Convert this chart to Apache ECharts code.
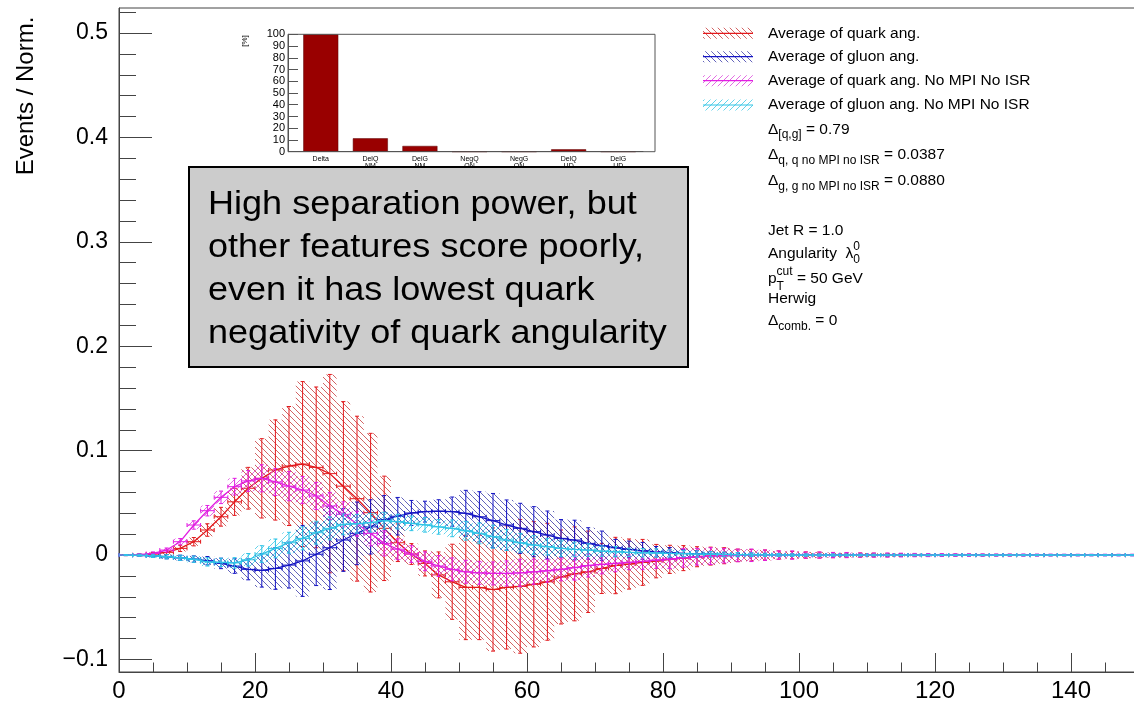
<!DOCTYPE html>
<html><head><meta charset="utf-8">
<script src="https://cdn.jsdelivr.net/npm/echarts@6/dist/echarts.min.js"></script>
<style>html,body{margin:0;padding:0;background:#fff;overflow:hidden}#c{width:1134px;height:702px}</style>
</head><body><div id="c"></div>
<script>
// ---------------- data ----------------
const binCenters = [1,3,5,7,9,11,13,15,17,19,21,23,25,27,29,31,33,35,37,39,41,43,45,47,49,51,53,55,57,59,61,63,65,67,69,71,73,75,77,79,81,83,85,87,89,91,93,95,97,99,101,103,105,107,109,111,113,115,117,119,121,123,125,127,129,131,133,135,137,139,141,143,145,147,149];

const quarkAvg = [0,0.0002,0.001,0.0026,0.0064,0.0128,0.024,0.0367,0.051,0.064,
  0.0735,0.0815,0.0853,0.0872,0.084,0.078,0.066,0.054,0.0406,0.0256,
  0.0118,0.001,-0.008,-0.019,-0.0256,-0.031,-0.031,-0.033,-0.031,-0.030,
  -0.028,-0.0256,-0.021,-0.018,-0.016,-0.0128,-0.010,-0.0086,-0.007,-0.0058,
  -0.0041,-0.0029,-0.0016,-0.001,-0.0006,-0.0003,-0.0002,-0.0001,0,0,
  0,0,0,0,0,0,0,0,0,0, 0,0,0,0,0,0,0,0,0,0, 0,0,0,0,0];
const quarkAvgErr = [0.0005,0.001,0.0015,0.002,0.003,0.004,0.006,0.009,0.013,0.02,
  0.038,0.048,0.057,0.079,0.077,0.095,0.081,0.079,0.076,0.05,
  0.018,0.01,0.012,0.022,0.036,0.05,0.05,0.059,0.059,0.064,
  0.06,0.056,0.045,0.045,0.039,0.024,0.027,0.024,0.022,0.016,
  0.0135,0.012,0.0096,0.0086,0.0077,0.006,0.0055,0.005,0.004,0.0035,
  0.003,0.0028,0.0025,0.0022,0.002,0.0018,0.0016,0.0014,0.0012,0.001,
  0.001,0.0009,0.0008,0.0008,0.0007,0.0007,0.0006,0.0006,0.0005,0.0005,
  0.0005,0.0004,0.0004,0.0004,0.0004];

const gluonAvg = [0,-0.0002,-0.0008,-0.0016,-0.0026,-0.0038,-0.0054,-0.008,-0.0105,-0.0137,
  -0.0147,-0.0128,-0.0096,-0.0056,0.0008,0.007,0.0144,0.0208,0.027,0.034,
  0.0372,0.0403,0.0416,0.042,0.0416,0.040,0.0367,0.033,0.0288,0.0256,
  0.0224,0.0192,0.016,0.0144,0.0112,0.009,0.007,0.0054,0.0041,0.0032,
  0.0022,0.0016,0.0013,0.0008,0.0006,0.0004,0.0003,0.0002,0.0001,0,
  0,0,0,0,0,0,0,0,0,0, 0,0,0,0,0,0,0,0,0,0, 0,0,0,0,0];
const gluonAvgErr = [0.0005,0.001,0.0015,0.002,0.0025,0.003,0.004,0.005,0.007,0.01,
  0.016,0.02,0.022,0.034,0.03,0.04,0.03,0.03,0.026,0.023,
  0.018,0.012,0.01,0.011,0.014,0.022,0.024,0.026,0.024,0.024,
  0.024,0.023,0.018,0.019,0.015,0.014,0.008,0.008,0.008,0.005,
  0.005,0.0035,0.003,0.0025,0.002,0.0018,0.0016,0.0014,0.0012,0.001,
  0.001,0.001,0.0009,0.0009,0.0008,0.0008,0.0008,0.0007,0.0007,0.0007,
  0.0006,0.0006,0.0006,0.0006,0.0006,0.0006,0.0006,0.0006,0.0006,0.0006,
  0.0005,0.0005,0.0005,0.0005,0.0005];

const quarkNoMpi = [0,0.0003,0.0015,0.0048,0.0128,0.0288,0.0425,0.0553,0.0655,0.071,
  0.0735,0.070,0.066,0.0623,0.0566,0.047,0.039,0.030,0.0208,0.0112,
  0.0056,0.001,-0.006,-0.0105,-0.0137,-0.016,-0.017,-0.0176,-0.0176,-0.017,
  -0.016,-0.015,-0.0137,-0.012,-0.010,-0.009,-0.008,-0.007,-0.006,-0.0048,
  -0.004,-0.0026,-0.0016,-0.001,-0.0006,-0.0003,-0.0002,-0.0001,0,0,
  0,0,0,0,0,0,0,0,0,0, 0,0,0,0,0,0,0,0,0,0, 0,0,0,0,0];
const quarkNoMpiErr = [0.0005,0.001,0.0015,0.002,0.003,0.004,0.005,0.006,0.008,0.01,
  0.013,0.013,0.014,0.013,0.013,0.013,0.012,0.012,0.012,0.012,
  0.01,0.008,0.009,0.01,0.011,0.011,0.011,0.011,0.012,0.013,
  0.012,0.011,0.011,0.012,0.011,0.009,0.008,0.007,0.008,0.008,
  0.009,0.009,0.008,0.008,0.007,0.006,0.006,0.005,0.004,0.004,
  0.003,0.003,0.0025,0.0025,0.002,0.002,0.002,0.0018,0.0016,0.0015,
  0.0014,0.0013,0.0012,0.0011,0.001,0.001,0.001,0.0009,0.0009,0.0008,
  0.0008,0.0008,0.0008,0.0008,0.0008];

const gluonNoMpi = [0,-0.0002,-0.0008,-0.0016,-0.0026,-0.004,-0.0065,-0.007,-0.0075,-0.0045,
  0.001,0.0064,0.0118,0.016,0.0214,0.0256,0.0294,0.030,0.031,0.033,
  0.032,0.0304,0.029,0.027,0.0256,0.0233,0.0208,0.0176,0.0144,0.0118,
  0.0096,0.008,0.0064,0.0054,0.0048,0.0038,0.0032,0.0026,0.0022,0.002,
  0.0016,0.0013,0.001,0.0008,0.0006,0.0004,0.0003,0.0002,0.0001,0,
  0,0,0,0,0,0,0,0,0,0, 0,0,0,0,0,0,0,0,0,0, 0,0,0,0,0];
const gluonNoMpiErr = [0.0005,0.001,0.0015,0.002,0.0025,0.003,0.004,0.004,0.005,0.006,
  0.008,0.009,0.01,0.011,0.011,0.011,0.01,0.009,0.009,0.008,
  0.007,0.007,0.007,0.007,0.008,0.009,0.01,0.011,0.01,0.009,
  0.009,0.008,0.008,0.007,0.006,0.005,0.005,0.004,0.004,0.004,
  0.0035,0.003,0.003,0.0025,0.0022,0.002,0.0018,0.0016,0.0014,0.0012,
  0.0011,0.001,0.001,0.0009,0.0009,0.0008,0.0008,0.0007,0.0007,0.0007,
  0.0006,0.0006,0.0006,0.0006,0.0006,0.0006,0.0006,0.0006,0.0006,0.0006,
  0.0006,0.0006,0.0006,0.0006,0.0006];

const xMajorTicks = [0,20,40,60,80,100,120,140];
const xMinorTicks = [5,10,15,25,30,35,45,50,55,65,70,75,85,90,95,105,110,115,125,130,135,145];
const yMajorTicks = [-0.1,0,0.1,0.2,0.3,0.4,0.5];
const yTickLabels = ['\u22120.1','0','0.1','0.2','0.3','0.4','0.5'];
const yMinorTicks = [-0.08,-0.06,-0.04,-0.02,0.02,0.04,0.06,0.08,0.12,0.14,0.16,0.18,0.22,0.24,0.26,0.28,0.32,0.34,0.36,0.38,0.42,0.44,0.46,0.48,0.52];
const yAxisTitle = 'Events / Norm.';

const insetCategories = ['Delta','DelQ\nNM','DelG\nNM','NegQ\nON','NegG\nON','DelQ\nUD','DelG\nUD'];
const insetValues = [100, 11.4, 4.9, 0, 0, 2.0, 0];
const insetYLabel = '[%]';

const legendNames = ['Average of quark ang.','Average of gluon ang.','Average of quark ang. No MPI No ISR','Average of gluon ang. No MPI No ISR'];
const boxLines = ['High separation power, but','other features score poorly,','even it has lowest quark','negativity of quark angularity'];

// ---------------- styling ----------------
const FONT = '"Liberation Sans", Arial, Helvetica, sans-serif';
function hatch(color, dir) {
  const s = 6, c = document.createElement('canvas'); c.width = s; c.height = s;
  const g = c.getContext('2d'); g.strokeStyle = color; g.lineWidth = 1;
  g.beginPath();
  for (const o of [-s, 0, s]) {
    if (dir === 'back') { g.moveTo(o, 0); g.lineTo(o + s, s); }
    else { g.moveTo(o, s); g.lineTo(o + s, 0); }
  }
  g.stroke();
  return { image: c, repeat: 'repeat' };
}
const hists = [
  { name: legendNames[0], vals: quarkAvg, errs: quarkAvgErr, color: '#e3191c', hatchColor: 'rgba(200,60,60,0.8)', dir: 'back' },
  { name: legendNames[1], vals: gluonAvg, errs: gluonAvgErr, color: '#1414c4', hatchColor: 'rgba(60,60,170,0.8)', dir: 'back' },
  { name: legendNames[2], vals: quarkNoMpi, errs: quarkNoMpiErr, color: '#e21ee2', hatchColor: 'rgba(220,70,220,0.8)', dir: 'fwd' },
  { name: legendNames[3], vals: gluonNoMpi, errs: gluonNoMpiErr, color: '#2ec4e6', hatchColor: 'rgba(60,200,230,0.8)', dir: 'fwd' }
];

const series = [];
hists.forEach((h, k) => {
  const data = binCenters.map((x, i) => [x, h.vals[i], h.errs[i]]);
  const pat = hatch(h.hatchColor, h.dir);
  series.push({
    type: 'custom', xAxisIndex: 0, yAxisIndex: 0, z: 2 + k * 3, silent: true, data,
    renderItem(params, api) {
      const x = api.value(0), y = api.value(1), e = api.value(2);
      const p1 = api.coord([x - 1, y + e]), p2 = api.coord([x + 1, y - e]);
      return { type: 'rect', shape: { x: p1[0], y: p1[1], width: p2[0] - p1[0], height: Math.max(p2[1] - p1[1], 0.5) }, style: { fill: pat } };
    }
  });
  series.push({
    type: 'line', xAxisIndex: 0, yAxisIndex: 0, z: 3 + k * 3, silent: true, data: data.map(d => [d[0], d[1]]),
    showSymbol: false, lineStyle: { color: h.color, width: 1.3 }, animation: false
  });
  series.push({
    type: 'custom', xAxisIndex: 0, yAxisIndex: 0, z: 4 + k * 3, silent: true, data,
    renderItem(params, api) {
      const x = api.value(0), y = api.value(1), e = api.value(2);
      const c = api.coord([x, y]);
      const top = api.coord([x, y + e])[1], bot = api.coord([x, y - e])[1];
      const l = api.coord([x - 1, y])[0], r = api.coord([x + 1, y])[0];
      const cap = 2;
      const st = { stroke: h.color, lineWidth: 1 };
      return { type: 'group', children: [
        { type: 'line', shape: { x1: c[0], y1: top, x2: c[0], y2: bot }, style: st },
        { type: 'line', shape: { x1: c[0] - cap, y1: top, x2: c[0] + cap, y2: top }, style: st },
        { type: 'line', shape: { x1: c[0] - cap, y1: bot, x2: c[0] + cap, y2: bot }, style: st },
        { type: 'line', shape: { x1: l, y1: c[1], x2: r, y2: c[1] }, style: st },
        { type: 'line', shape: { x1: l, y1: c[1] - cap, x2: l, y2: c[1] + cap }, style: st },
        { type: 'line', shape: { x1: r, y1: c[1] - cap, x2: r, y2: c[1] + cap }, style: st }
      ] };
    }
  });
});
series.push({
  type: 'bar', xAxisIndex: 2, yAxisIndex: 2, data: insetValues, barWidth: 35,
  itemStyle: { color: '#990000', borderColor: '#5a0000', borderWidth: 0.5 }, silent: true, z: 30
});

// ---------------- text helpers ----------------
const mctx = document.createElement('canvas').getContext('2d');
function tw(text, size) { mctx.font = size + 'px ' + FONT; return mctx.measureText(text).width; }
function runs(x, y, parts, z) {
  const out = []; let cx = x;
  parts.forEach(p => {
    out.push({ type: 'text', x: cx, y: y + (p.dy || 0), z: z || 50,
      style: { text: p.t, font: p.size + 'px ' + FONT, fill: '#000', align: 'left', verticalAlign: 'middle' } });
    if (!p.noAdvance) cx += tw(p.t, p.size);
  });
  return out;
}
const LS = 15.5, SS = 12;
const graphics = [];
// legend
const legY = [33.3, 56.7, 80.7, 105];
hists.forEach((h, k) => {
  graphics.push({ type: 'rect', shape: { x: 703, y: legY[k] - 5.5, width: 50, height: 11 }, style: { fill: hatch(h.hatchColor, h.dir) }, z: 50 });
  graphics.push({ type: 'line', shape: { x1: 703, y1: legY[k], x2: 753, y2: legY[k] }, style: { stroke: h.color, lineWidth: 1.2 }, z: 51 });
  graphics.push(...runs(768, legY[k], [{ t: h.name, size: LS }]));
});
graphics.push(...runs(768, 130, [{ t: 'Δ', size: LS }, { t: '[q,g]', size: SS, dy: 5 }, { t: ' = 0.79', size: LS }]));
graphics.push(...runs(768, 155, [{ t: 'Δ', size: LS }, { t: 'q, q no MPI no ISR', size: SS, dy: 6 }, { t: ' = 0.0387', size: LS }]));
graphics.push(...runs(768, 181, [{ t: 'Δ', size: LS }, { t: 'g, g no MPI no ISR', size: SS, dy: 6 }, { t: ' = 0.0880', size: LS }]));
graphics.push(...runs(768, 230.7, [{ t: 'Jet R = 1.0', size: LS }]));
graphics.push(...runs(768, 254, [{ t: 'Angularity  λ', size: LS }, { t: '0', size: SS, dy: -7, noAdvance: true }, { t: '0', size: SS, dy: 6 }]));
graphics.push(...runs(768, 279, [{ t: 'p', size: LS }, { t: 'T', size: SS, dy: 8, noAdvance: true }, { t: 'cut', size: SS, dy: -7 }, { t: ' = 50 GeV', size: LS }]));
graphics.push(...runs(768, 299, [{ t: 'Herwig', size: LS }]));
graphics.push(...runs(768, 321, [{ t: 'Δ', size: LS }, { t: 'comb.', size: SS, dy: 6 }, { t: ' = 0', size: LS }]));
// y axis title
graphics.push({ type: 'text', x: 26, y: 96, rotation: Math.PI / 2, z: 50,
  style: { text: yAxisTitle, font: '24px ' + FONT, fill: '#000', align: 'center', verticalAlign: 'middle' } });
// inset frame and label
graphics.push({ type: 'rect', shape: { x: 288, y: 34.3, width: 367, height: 117.4 }, style: { fill: 'none', stroke: '#555', lineWidth: 1 }, z: 40 });
graphics.push({ type: 'text', x: 245, y: 41, rotation: Math.PI / 2, z: 50,
  style: { text: insetYLabel, font: '8px ' + FONT, fill: '#000', align: 'center', verticalAlign: 'middle' } });
// grey annotation box
graphics.push({ type: 'rect', shape: { x: 189, y: 167, width: 499, height: 200 }, style: { fill: '#cccccc', stroke: '#000', lineWidth: 2 }, z: 60 });
boxLines.forEach((t, i) => {
  graphics.push({ type: 'text', x: 208, y: 205 + i * 42.8, z: 61, scaleX: 1.06,
    style: { text: t, font: '34px ' + FONT, fill: '#000', align: 'left', verticalAlign: 'middle' } });
});

const axisGrey = '#444';
const option = {
  animation: false,
  backgroundColor: '#fff',
  grid: [
    { left: 119, top: 8, width: 1020, height: 664, show: true, borderColor: axisGrey, borderWidth: 1, backgroundColor: 'transparent',
      containLabel: false, outerBoundsMode: 'none' },
    { left: 296, top: 34.3, width: 347, height: 117.4, containLabel: false, outerBoundsMode: 'none' }
  ],
  xAxis: [
    { type: 'value', gridIndex: 0, min: 0, max: 150, position: 'bottom',
      axisLine: { show: true, onZero: false, lineStyle: { color: axisGrey, width: 1 } },
      axisTick: { show: true, inside: true, length: 19, customValues: xMajorTicks, lineStyle: { color: axisGrey } },
      axisLabel: { customValues: xMajorTicks, fontSize: 24, fontFamily: FONT, color: '#000', margin: 7 },
      splitLine: { show: false } },
    { type: 'value', gridIndex: 0, min: 0, max: 150, position: 'bottom',
      axisLine: { show: false, onZero: false },
      axisTick: { show: true, inside: true, length: 9.5, customValues: xMinorTicks, lineStyle: { color: axisGrey } },
      axisLabel: { show: false }, splitLine: { show: false } },
    { type: 'category', gridIndex: 1, data: insetCategories, position: 'bottom',
      axisLine: { show: true, onZero: false, lineStyle: { color: '#555' } }, axisTick: { show: false },
      axisLabel: { interval: 0, fontSize: 7, fontFamily: FONT, color: '#000', margin: 4, lineHeight: 7 } }
  ],
  yAxis: [
    { type: 'value', gridIndex: 0, min: -0.112, max: 0.524, position: 'left', offset: 0,
      axisLine: { show: true, onZero: false, lineStyle: { color: axisGrey, width: 1 } },
      axisTick: { show: true, inside: true, length: 33, customValues: yMajorTicks, lineStyle: { color: axisGrey } },
      axisLabel: { customValues: yMajorTicks, fontSize: 23, fontFamily: FONT, color: '#000', margin: 11, padding: [0, 0, 7, 0],
        formatter: v => { const i = yMajorTicks.findIndex(t => Math.abs(t - v) < 1e-9); return i >= 0 ? yTickLabels[i] : ''; } },
      splitLine: { show: false } },
    { type: 'value', gridIndex: 0, min: -0.112, max: 0.524, position: 'right', offset: -1020,
      axisLine: { show: false, onZero: false },
      axisTick: { show: true, inside: false, length: 17, customValues: yMinorTicks, lineStyle: { color: axisGrey } },
      axisLabel: { show: false }, splitLine: { show: false } },
    { type: 'value', gridIndex: 1, min: 0, max: 100, interval: 10, offset: 8, position: 'left',
      axisLine: { show: true, onZero: false, lineStyle: { color: '#555' } },
      axisTick: { show: true, inside: true, length: 10, lineStyle: { color: '#555' } },
      axisLabel: { fontSize: 11, fontFamily: FONT, color: '#000', margin: 3 },
      splitLine: { show: false } }
  ],
  series,
  graphic: { elements: graphics }
};
const chart = echarts.init(document.getElementById('c'), null, { renderer: 'canvas' });
chart.setOption(option);
</script></body></html>
